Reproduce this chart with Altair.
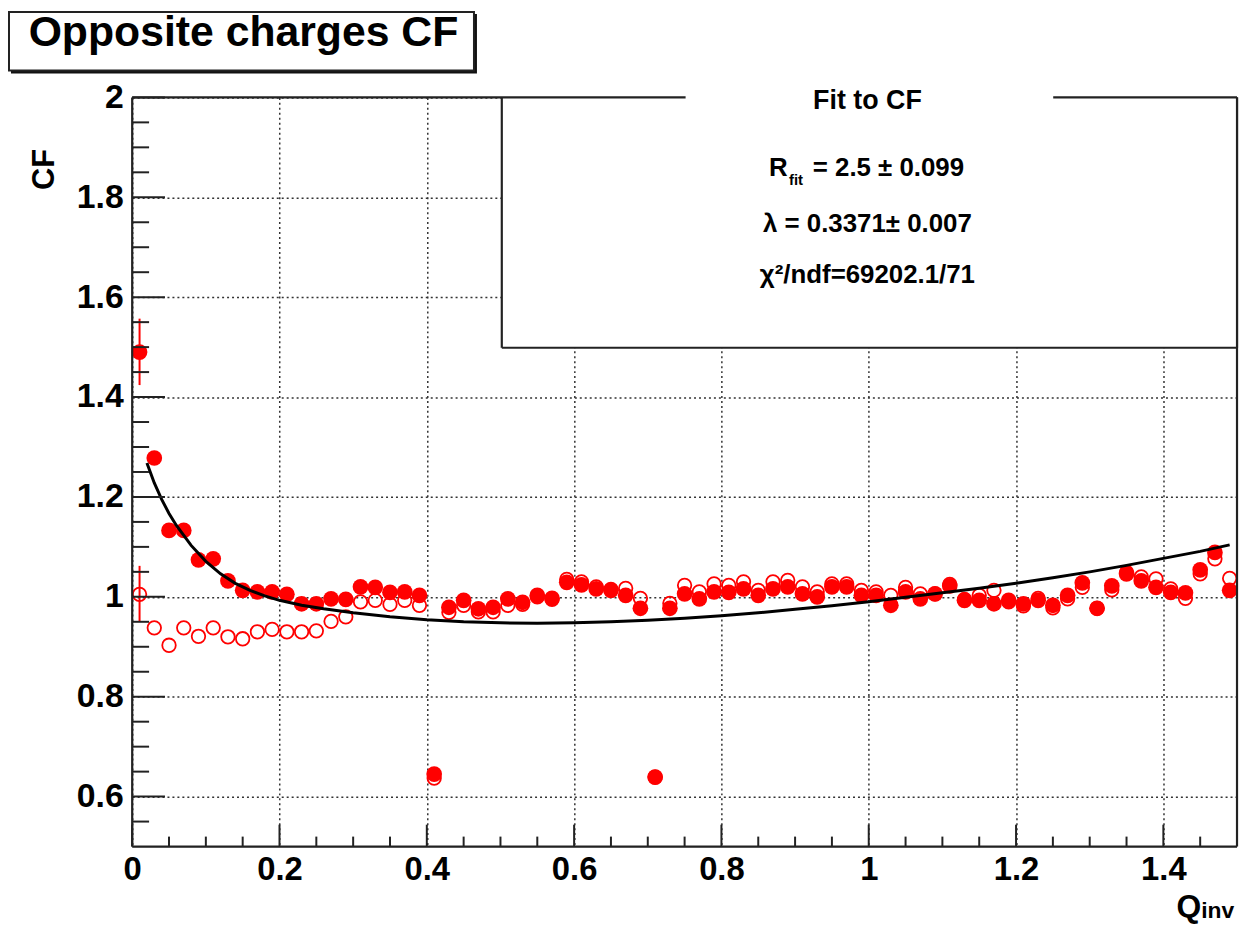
import altair as alt
import pandas as pd

# ---------------- data ----------------
q_bins = [0.01, 0.03, 0.05, 0.07, 0.09, 0.11, 0.13, 0.15, 0.17, 0.19,
          0.21, 0.23, 0.25, 0.27, 0.29, 0.31, 0.33, 0.35, 0.37, 0.39,
          0.41, 0.43, 0.45, 0.47, 0.49, 0.51, 0.53, 0.55, 0.57, 0.59,
          0.61, 0.63, 0.65, 0.67, 0.69, 0.71, 0.73, 0.75, 0.77, 0.79,
          0.81, 0.83, 0.85, 0.87, 0.89, 0.91, 0.93, 0.95, 0.97, 0.99,
          1.01, 1.03, 1.05, 1.07, 1.09, 1.11, 1.13, 1.15, 1.17, 1.19,
          1.21, 1.23, 1.25, 1.27, 1.29, 1.31, 1.33, 1.35, 1.37, 1.39,
          1.41, 1.43, 1.45, 1.47, 1.49]

cf_filled = [1.490, 1.278, 1.133, 1.133, 1.074, 1.076, 1.032, 1.013, 1.010, 1.010,
             1.005, 0.986, 0.986, 0.996, 0.995, 1.020, 1.019, 1.009, 1.010, 1.003,
             0.645, 0.979, 0.993, 0.976, 0.979, 0.996, 0.989, 1.003, 0.997, 1.029,
             1.024, 1.016, 1.013, 1.003, 0.977, 0.639, 0.977, 1.006, 0.996, 1.010,
             1.009, 1.016, 1.003, 1.016, 1.020, 1.006, 1.000, 1.020, 1.020, 1.003,
             1.003, 0.983, 1.010, 0.996, 1.006, 1.022, 0.993, 0.993, 0.986, 0.993,
             0.986, 0.993, 0.983, 1.003, 1.028, 0.977, 1.022, 1.046, 1.032, 1.019,
             1.009, 1.008, 1.054, 1.089, 1.013]

cf_open = [1.005, 0.938, 0.903, 0.938, 0.921, 0.938, 0.920, 0.916, 0.930, 0.935,
           0.930, 0.930, 0.932, 0.951, 0.960, 0.990, 0.993, 0.985, 0.993, 0.983,
           0.637, 0.969, 0.983, 0.970, 0.970, 0.983, 0.985, 1.000, 0.995, 1.035,
           1.030, 1.020, 1.015, 1.017, 0.997, 0.639, 0.987, 1.023, 1.010, 1.026,
           1.023, 1.030, 1.013, 1.030, 1.033, 1.020, 1.010, 1.026, 1.026, 1.013,
           1.010, 1.003, 1.019, 1.006, 1.006, 1.025, 0.995, 1.003, 1.013, 0.990,
           0.982, 0.997, 0.978, 0.996, 1.019, 0.977, 1.014, 1.049, 1.040, 1.036,
           1.016, 0.997, 1.046, 1.076, 1.037]

fit_q = [0.02, 0.03, 0.04, 0.05, 0.06, 0.08, 0.10, 0.12, 0.14, 0.16, 0.18, 0.20,
         0.23, 0.26, 0.30, 0.35, 0.40, 0.45, 0.50, 0.55, 0.60, 0.65, 0.70, 0.75,
         0.80, 0.85, 0.90, 0.95, 1.00, 1.05, 1.10, 1.15, 1.20, 1.25, 1.30, 1.35,
         1.40, 1.45, 1.49]
fit_cf = [1.268, 1.228, 1.195, 1.167, 1.143, 1.103, 1.071, 1.046, 1.027, 1.013, 1.002, 0.993,
          0.983, 0.976, 0.968, 0.960, 0.954, 0.950, 0.948, 0.947, 0.948, 0.950, 0.953, 0.957,
          0.962, 0.968, 0.975, 0.982, 0.990, 0.999, 1.008, 1.017, 1.027, 1.038, 1.050, 1.063,
          1.077, 1.091, 1.104]

err_q = [0.01, 0.01]
err_lo = [1.424, 0.950]
err_hi = [1.557, 1.062]

x_major = [0, 0.2, 0.4, 0.6, 0.8, 1.0, 1.2, 1.4]
x_minor = [0.05, 0.1, 0.15, 0.25, 0.3, 0.35, 0.45, 0.5, 0.55, 0.65, 0.7, 0.75,
           0.85, 0.9, 0.95, 1.05, 1.1, 1.15, 1.25, 1.3, 1.35, 1.45]
y_major = [0.6, 0.8, 1.0, 1.2, 1.4, 1.6, 1.8, 2.0]
y_minor = [0.55, 0.65, 0.7, 0.75, 0.85, 0.9, 0.95, 1.05, 1.1, 1.15, 1.25, 1.3,
           1.35, 1.45, 1.5, 1.55, 1.65, 1.7, 1.75, 1.85, 1.9, 1.95]

title_text = "Opposite charges CF"
legend_title = "Fit to CF"
line_r_main = "R"
line_r_sub = "fit"
line_r_rest = "= 2.5 \u00b1 0.099"
line_lambda = "\u03bb = 0.3371\u00b1 0.007"
line_chi = "\u03c7\u00b2/ndf=69202.1/71"

# ---------------- layout ----------------
W, H = 1112, 754
FONT = "Liberation Sans"
RED = "#ff0000"
FRAME = "#222222"

xscale = alt.Scale(domain=[0, 1.5], nice=False, zero=False)
yscale = alt.Scale(domain=[0.5, 2.0], nice=False, zero=False)

xaxis = alt.Axis(values=x_major, format="~g", grid=True, gridDash=[2, 3],
                 gridColor="#333333", gridWidth=1.5, ticks=False, tickSize=0,
                 domain=False, labelPadding=7, labelFontSize=33, labelFlush=False,
                 labelFontWeight="bold", labelColor="black", labelFont=FONT,
                 title="Q", titleFont=FONT, titleFontSize=32, titleFontWeight="bold",
                 titleColor="black", titleX=1063, titleY=70, titleAlign="center",
                 titleBaseline="alphabetic")
yaxis = alt.Axis(values=y_major, format="~g", grid=True, gridDash=[2, 3],
                 gridColor="#333333", gridWidth=1.5, ticks=False, tickSize=0,
                 domain=False, labelPadding=9, labelFontSize=34, labelFlush=False,
                 labelFontWeight="bold", labelColor="black", labelFont=FONT,
                 title="CF", titleFont=FONT, titleFontSize=31, titleFontWeight="bold",
                 titleColor="black", titleX=-88, titleY=72, titleAngle=270,
                 titleAlign="center", titleBaseline="middle")


def X(field):
    return alt.X(f"{field}:Q", scale=xscale, axis=xaxis)


def Y(field):
    return alt.Y(f"{field}:Q", scale=yscale, axis=yaxis)


df = pd.DataFrame({"q": q_bins, "filled": cf_filled, "open": cf_open})
fit_df = pd.DataFrame({"q": fit_q, "v": fit_cf})
err_df = pd.DataFrame({"q": err_q, "lo": err_lo, "hi": err_hi})
xmaj_df = pd.DataFrame({"q": x_major})
xmin_df = pd.DataFrame({"q": x_minor})
ymaj_df = pd.DataFrame({"v": y_major})
ymin_df = pd.DataFrame({"v": y_minor})
one = pd.DataFrame({"k": [0]})

open_pts = alt.Chart(df).mark_point(shape="circle", filled=False, size=185,
                                    color=RED, strokeWidth=1.8, opacity=1).encode(
    x=X("q"), y=Y("open"))
err = alt.Chart(err_df).mark_rule(color=RED, strokeWidth=2).encode(
    x=X("q"), y=Y("lo"), y2="hi:Q")
filled_pts = alt.Chart(df).mark_point(shape="circle", filled=True, size=250,
                                      color=RED, opacity=1).encode(
    x=X("q"), y=Y("filled"))
fit = alt.Chart(fit_df).mark_line(color="black", strokeWidth=3).encode(
    x=X("q"), y=Y("v"))

xt_major = alt.Chart(xmaj_df).mark_rule(color=FRAME, strokeWidth=2).encode(
    x=X("q"), y=alt.value(H), y2=alt.value(H - 22))
xt_minor = alt.Chart(xmin_df).mark_rule(color=FRAME, strokeWidth=2).encode(
    x=X("q"), y=alt.value(H), y2=alt.value(H - 10))
yt_major = alt.Chart(ymaj_df).mark_rule(color=FRAME, strokeWidth=2).encode(
    y=Y("v"), x=alt.value(0), x2=alt.value(33))
yt_minor = alt.Chart(ymin_df).mark_rule(color=FRAME, strokeWidth=2).encode(
    y=Y("v"), x=alt.value(0), x2=alt.value(17))


def rule(x1, x2, y1, y2, w=2.2, color=FRAME):
    return alt.Chart(one).mark_rule(color=color, strokeWidth=w).encode(
        x=alt.value(x1), x2=alt.value(x2), y=alt.value(y1), y2=alt.value(y2))


def box(x1, x2, y1, y2, fill, stroke=None, w=0):
    kw = dict(fill=fill)
    if stroke is not None:
        kw.update(stroke=stroke, strokeWidth=w)
    return alt.Chart(one).mark_rect(**kw).encode(
        x=alt.value(x1), x2=alt.value(x2), y=alt.value(y1), y2=alt.value(y2))


def text(s, x, y, size, align="left", baseline="alphabetic"):
    return alt.Chart(one).mark_text(text=s, font=FONT, fontSize=size, fontWeight="bold",
                                    color="black", align=align, baseline=baseline).encode(
        x=alt.value(x), y=alt.value(y))


LX = 372  # legend left
LB = 252  # legend bottom
frame = [
    rule(0, 0, 0, H),          # left
    rule(0, W, H, H),          # bottom
    rule(W, W, 0, H),          # right
]
legend = [
    box(LX, W, -2, LB, "white"),
    rule(0, 557, 0, 0),        # top frame + legend top left part
    rule(927, W, 0, 0),        # legend top right part
    rule(LX, LX, 0, LB),       # legend left
    rule(LX, W, LB, LB),       # legend bottom
    rule(W, W, 0, LB),         # right edge over legend
    text(legend_title, 740, 12, 27, align="center"),
    text(line_r_main, 641, 79, 26),
    text(line_r_sub, 661, 88, 15),
    text(line_r_rest, 685, 79, 26),
    text(line_lambda, 740, 135, 26, align="center"),
    text(line_chi, 740, 187, 26, align="center"),
]
title = [
    box(-122, 347, -84, -24, "#111111"),
    box(-124, 344, -86, -27, "white", stroke=FRAME, w=2),
    text(title_text, 112, -52, 43, align="center"),
]
qsub = [text("inv", 1076, 826, 23)]

chart = alt.layer(
    open_pts, err, filled_pts, fit,
    xt_major, xt_minor, yt_major, yt_minor,
    *frame, *legend, *title, *qsub
).properties(
    width=W, height=H,
    autosize=alt.AutoSizeParams(type="none"),
    padding={"left": 125, "top": 87, "right": 2, "bottom": 78},
    background="white",
).configure_view(strokeWidth=0).configure(font=FONT)

chart.save("out.html", embed_options={"renderer": "svg", "actions": False})
